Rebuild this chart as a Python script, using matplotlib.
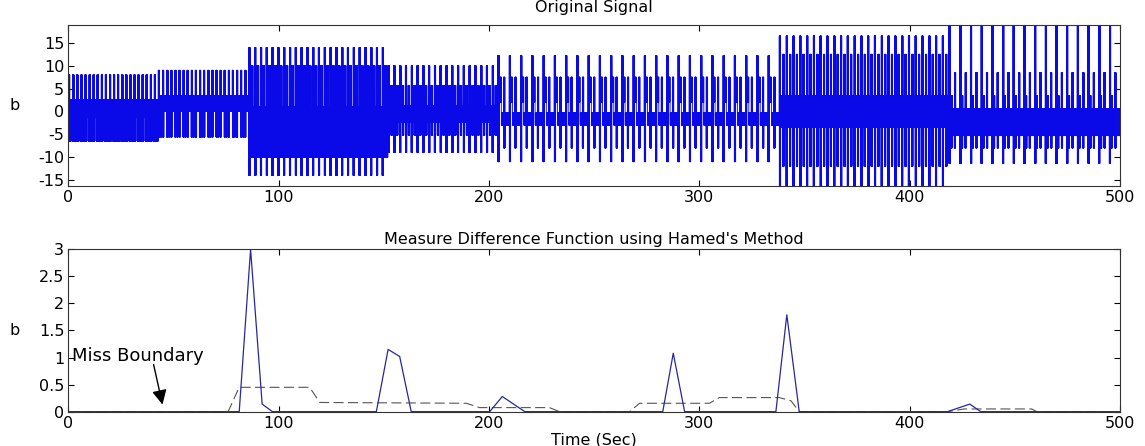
import numpy as np
import matplotlib
matplotlib.use("Agg")
import matplotlib.pyplot as plt
from matplotlib.ticker import FormatStrFormatter

# ── Top panel: piecewise test signal, one entry per segment ──────────────────
seg_start  = [0.0, 42.7, 85.7, 151.9, 204.2, 338.0, 418.7]
seg_end    = [42.7, 85.7, 151.9, 204.2, 338.0, 418.7, 500.0]
seg_cycles = [11, 11, 24, 19, 25, 25, 16]           # repeats per segment
spike_hi   = [8.0, 9.0, 14.0, 10.0, 12.2, 16.5, 18.9]
spike_lo   = [-6.5, -5.6, -14.0, -9.0, -11.0, -16.3, -11.4]
spike2_hi  = [8.0, 9.0, 10.0, 5.7, 7.5, 12.5, 8.5]
spike2_lo  = [-6.5, -5.6, -10.0, -5.2, -8.0, -12.0, -8.0]
band_hi    = [2.5, 3.5, 1.0, 1.3, -0.3, 3.5, 0.6]
band_lo    = [-6.5, 0.0, -10.0, -2.4, -3.0, -3.5, -5.3]
alt_hi     = [2.5, 3.5, 10.0, 5.7, 7.5, 3.5, 3.5]
alt_lo     = [-1.3, -5.6, -10.0, -2.4, 2.0, -3.5, -8.0]
alt_from   = [0.25, 0.25, 0.2, 0.1, 0.1, 0.1, 0.1]
alt_to     = [0.40, 0.40, 0.45, 0.3, 0.3, 0.3, 0.3]

# ── Bottom panel: measure difference function ───────────────────────────────
mdf_t = [0, 81.2, 86.6, 92.1, 97, 146.4, 152, 157.5, 163, 200.3, 206.3, 217,
         282.6, 287.6, 293, 336.4, 341.6, 347.5, 418, 428.6, 433.8, 500]
mdf_b = [0, 0, 3.0, 0.14, 0, 0, 1.15, 1.02, 0, 0, 0.28, 0,
         0, 1.08, 0, 0, 1.79, 0, 0, 0.14, 0, 0]
thr_t = [0, 75.9, 81.2, 114.7, 119.5, 189.2, 195.5, 228.7, 233.5, 266.8, 271.6,
         304.8, 309.5, 338, 343.6, 347.5, 418, 426, 458, 460.5, 500]
thr_b = [0, 0, 0.45, 0.45, 0.17, 0.155, 0.075, 0.075, 0, 0, 0.155,
         0.155, 0.26, 0.26, 0.2, 0, 0, 0.05, 0.05, 0, 0]

# ── build the waveform from the segment table ───────────────────────────────
DT = 0.05
SPIKE_W = 0.7       # spike width, in time units
t_parts, s_parts = [], []
for i in range(len(seg_start)):
    n = int(round((seg_end[i] - seg_start[i]) / DT))
    k = np.arange(n)
    per = (seg_end[i] - seg_start[i]) / seg_cycles[i]
    ph = ((k * DT) % per) / per
    odd = (k % 2).astype(bool)
    w = SPIKE_W / per
    conds = [ph < w,
             (ph >= 0.5) & (ph < 0.5 + w),
             (ph >= alt_from[i]) & (ph < alt_to[i])]
    choices = [np.where(odd, spike_lo[i], spike_hi[i]),
               np.where(odd, spike2_lo[i], spike2_hi[i]),
               np.where(odd, alt_lo[i], alt_hi[i])]
    vals = np.select(conds, choices,
                     default=np.nan)
    vals = np.where(np.isnan(vals), np.where(odd, band_lo[i], band_hi[i]), vals)
    t_parts.append(seg_start[i] + DT * k)
    s_parts.append(vals)
t_sig = np.concatenate(t_parts)
sig = np.concatenate(s_parts)

plt.rcParams["font.family"] = ["DejaVu Sans"]
plt.rcParams["axes.unicode_minus"] = False
fig = plt.figure(figsize=(11.45, 4.46), dpi=100)
fig.patch.set_facecolor("white")

ax1 = fig.add_axes([0.0598, 0.583, 0.9183, 0.361])
ax2 = fig.add_axes([0.0598, 0.077, 0.9183, 0.364])

ax1.plot(t_sig, sig, color="#0a0ae8", lw=0.6)
ax1.set_xlim(0, 500)
ax1.set_ylim(-16.3, 18.9)
ax1.set_yticks([-15, -10, -5, 0, 5, 10, 15])
ax1.set_xticks([0, 100, 200, 300, 400, 500])
ax1.set_title("Original Signal", fontsize=11.5, pad=9)
ax1.set_ylabel("b", fontsize=11.5, rotation=0, va="center", ha="center")

ax2.plot(thr_t, thr_b, color="#555555", lw=0.8, ls=(0, (9, 4)))
ax2.plot(mdf_t, mdf_b, color="#28289a", lw=0.9)
ax2.set_xlim(0, 500)
ax2.set_ylim(0, 3)
ax2.set_yticks([0, 0.5, 1, 1.5, 2, 2.5, 3])
ax2.yaxis.set_major_formatter(FormatStrFormatter("%g"))
ax2.set_xticks([0, 100, 200, 300, 400, 500])
ax2.set_title("Measure Difference Function using Hamed's Method",
              fontsize=11.5, pad=4)
ax2.set_xlabel("Time (Sec)", fontsize=11.5, labelpad=1)
ax2.set_ylabel("b", fontsize=11.5, rotation=0, va="center", ha="center")

ax2.text(1.5, 1.03, "Miss Boundary", fontsize=13, ha="left", va="center")
ax2.annotate("", xy=(45, 0.08), xytext=(40.2, 0.92),
             arrowprops=dict(arrowstyle="-|>", color="black", lw=1.0,
                             mutation_scale=22))

for ax in (ax1, ax2):
    ax.tick_params(direction="in", top=True, right=True, length=4,
                   labelsize=11.5, pad=3)
    ax.yaxis.set_label_coords(-0.051, 0.5)
    for sp in ax.spines.values():
        sp.set_color("#333333")
        sp.set_linewidth(0.8)

fig.savefig("out.png", dpi=100, facecolor="white")
